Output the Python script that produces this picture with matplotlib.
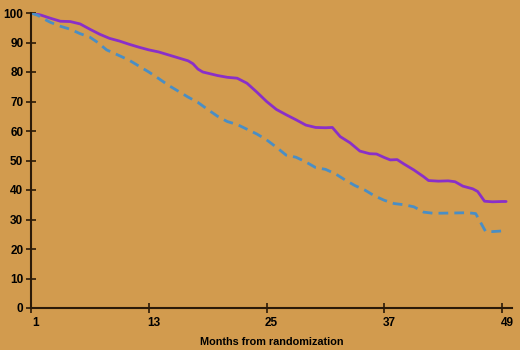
import matplotlib
matplotlib.use("Agg")
import matplotlib.pyplot as plt
import matplotlib.transforms as mtransforms

# Data
purple_months = [1, 2, 3, 4, 5, 6, 7, 8, 9, 10, 11, 12, 13, 14, 15, 16, 17, 17.5, 18, 18.5,
                 19, 20, 21, 22, 23, 24, 25, 26, 27, 28, 29, 30, 31, 31.7, 32.5, 33.5, 34.5,
                 35.5, 36.2, 37, 37.6, 38.3, 39, 40, 41, 41.5, 42.5, 43.5, 44.2, 45, 46, 46.5,
                 47.2, 48, 49, 49.4]
purple_values = [100, 99.3, 98.2, 97.2, 97.1, 96.3, 94.5, 92.8, 91.4, 90.5, 89.4, 88.4, 87.5,
                 86.8, 85.8, 84.8, 83.8, 82.8, 81, 80, 79.6, 78.8, 78.2, 77.9, 76.2, 73.2, 70,
                 67.3, 65.5, 63.8, 62, 61.2, 61.1, 61.2, 58.1, 56, 53.2, 52.3, 52.2, 51, 50.2,
                 50.3, 48.8, 46.8, 44.5, 43.2, 43, 43.1, 42.8, 41.3, 40.4, 39.5, 36.2, 36, 36.1,
                 36.1]

blue_months = [1, 1.7, 2.3, 3, 4, 5, 6, 7, 7.8, 8.7, 9.7, 11, 12, 13, 14, 15, 16, 17, 18, 19,
               20, 21, 22, 23, 24, 25, 26, 27, 28, 29, 30, 31, 32, 33, 34, 35, 36, 37, 38, 39,
               40, 41, 42, 44, 45.5, 46.3, 46.8, 47.3, 48, 49.4]
blue_values = [100, 99.2, 98, 96.8, 95.5, 94.5, 93, 91.8, 90, 87.5, 86, 84, 82, 80, 77.8, 75.5,
               73.5, 71.5, 69.7, 67.3, 65, 63.2, 62.2, 60.6, 59, 57, 54.5, 51.8, 51.1, 49.5,
               47.6, 47, 45.5, 43.4, 41.5, 40, 38, 36.5, 35.4, 35, 34.3, 32.5, 32.1, 32.2,
               32.3, 32, 29, 26, 25.9, 26.2]

x_ticks = [1, 13, 25, 37, 49]
y_ticks = [0, 10, 20, 30, 40, 50, 60, 70, 80, 90, 100]
x_label = "Months from randomization"

bg = "#D29B4E"
axis_col = "#2B1A08"

plt.rcParams['font.family'] = ['Liberation Sans', 'DejaVu Sans']

fig = plt.figure(figsize=(5.2, 3.5), dpi=100, facecolor=bg)
ax = fig.add_axes([31/520, 1-308/350, (512-31)/520, (308-13)/350])
ax.set_facecolor(bg)

ax.plot(purple_months, purple_values, color="#8A2FC8", lw=2.0, solid_capstyle='round',
        solid_joinstyle='round')
ax.plot(blue_months, blue_values, color="#4A8EC4", lw=2.0, ls=(0, (3.5, 2.2)))

ax.set_xlim(1, 50)
ax.set_ylim(0, 100)
ax.set_xticks(x_ticks)
ax.set_yticks(y_ticks)

for s in ['top', 'right']:
    ax.spines[s].set_visible(False)
for s in ['left', 'bottom']:
    ax.spines[s].set_color(axis_col)
    ax.spines[s].set_linewidth(1.5)

ax.tick_params(axis='both', direction='inout', length=7, width=1.2, color=axis_col,
               labelsize=8.5, labelcolor='black')
ax.tick_params(axis='y', pad=2)
ax.tick_params(axis='x', pad=3)
for lab in ax.get_xticklabels() + ax.get_yticklabels():
    lab.set_fontweight('bold')

offset = mtransforms.ScaledTranslation(5/100, 0, fig.dpi_scale_trans)
for lab in ax.get_xticklabels():
    lab.set_transform(lab.get_transform() + offset)

ax.set_xlabel(x_label, fontsize=7.8, fontweight='bold', color='black', labelpad=6)

fig.savefig("out.png", dpi=100, facecolor=bg)
